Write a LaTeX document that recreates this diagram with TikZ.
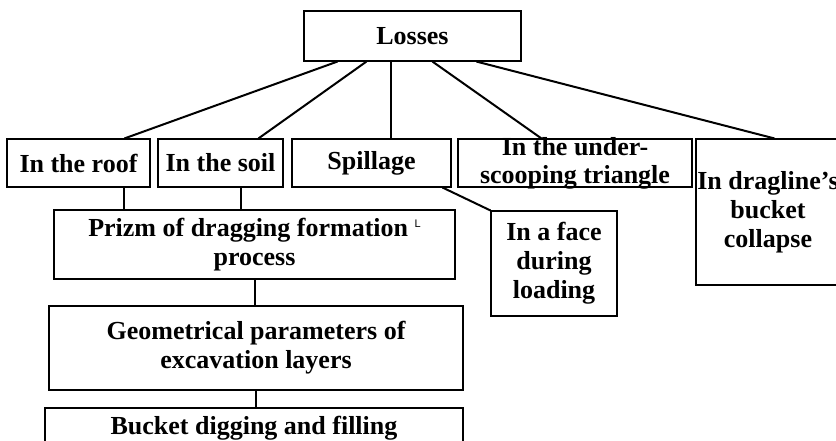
\documentclass[tikz,border=0pt]{standalone}
\usepackage{fontspec}
\setmainfont{Liberation Serif}
\newfontfamily\markfont{Liberation Sans}
\tikzset{basic/.style={draw,line width=1.1pt,rectangle,inner sep=0pt,
                       align=center,font=\fontsize{26}{29}\selectfont\bfseries}}
\tikzset{loss/.style={basic,minimum height=48pt}}
\tikzset{stage/.style={basic,line width=1.2pt}}
\tikzset{lastbox/.style={basic,line width=2.4pt}}
\tikzset{link/.style={line width=2pt}}

\begin{document}
\begin{tikzpicture}[x=1pt,y=-1pt]
    \useasboundingbox (0,0) rectangle (836,440);
    \clip (0,0) rectangle (836,440);
    % Draw top node
    \node[basic,minimum width=217pt,minimum height=50pt] (losses) at (412.5,36) {Losses};
    % Draw kinds of losses
    \node[loss,minimum width=143pt] (roof) at (78.5,163) {In the roof};
    \node[loss,minimum width=125pt] (soil) at (220.5,163) {In the soil};
    \node[loss,minimum width=159pt] (spill) at (371.5,163) {Spillage};
    \node[loss,minimum width=234pt,inner ysep=-4pt,
          font=\fontsize{26}{28}\selectfont\bfseries] (under) at (575,163) {In the under-\\scooping triangle};
    \node[basic,minimum width=144pt,minimum height=146pt] (drag) at (768,212)
        {In dragline’s\\bucket\\collapse};
    \node[basic,minimum width=126pt,minimum height=105pt] (face) at (554,263.5)
        {In a face\\during\\loading};
    % Draw chain of stages
    \node[stage,minimum width=401pt,minimum height=69pt] (prizm) at (254.5,244.5)
        {Prizm of dragging formation {\normalfont\markfont\fontsize{11}{11}\selectfont\raisebox{9pt}{L}}\\process};
    \node[stage,minimum width=414pt,minimum height=84pt] (geom) at (256,348)
        {Geometrical parameters of\\excavation layers};
    \node[lastbox,minimum width=418pt,minimum height=40pt] (bucket) at (254,428)
        {Bucket digging and filling};
    % Connect losses to its kinds
    \draw[link] ([xshift=34pt]losses.south west) -- ([xshift=118pt]roof.north west);
    \draw[link] ([xshift=63pt]losses.south west) -- ([xshift=101pt]soil.north west);
    \draw[link] ([xshift=88pt]losses.south west) -- ([xshift=100pt]spill.north west);
    \draw[link] ([xshift=129pt]losses.south west) -- ([xshift=84pt]under.north west);
    \draw[link] ([xshift=173pt]losses.south west) -- ([xshift=79pt]drag.north west);
    \draw[link] ([xshift=-9pt]spill.south east) -- (face.north west);
    % Connect the stages
    \draw[link] ([xshift=118pt]roof.south west) -- ([xshift=118pt]roof.south west |- prizm.north);
    \draw[link] ([xshift=84pt]soil.south west) -- ([xshift=84pt]soil.south west |- prizm.north);
    \draw[link] (prizm.south) -- (prizm.south |- geom.north);
    \draw[link] (geom.south) -- (geom.south |- bucket.north);
\end{tikzpicture}
\end{document}
